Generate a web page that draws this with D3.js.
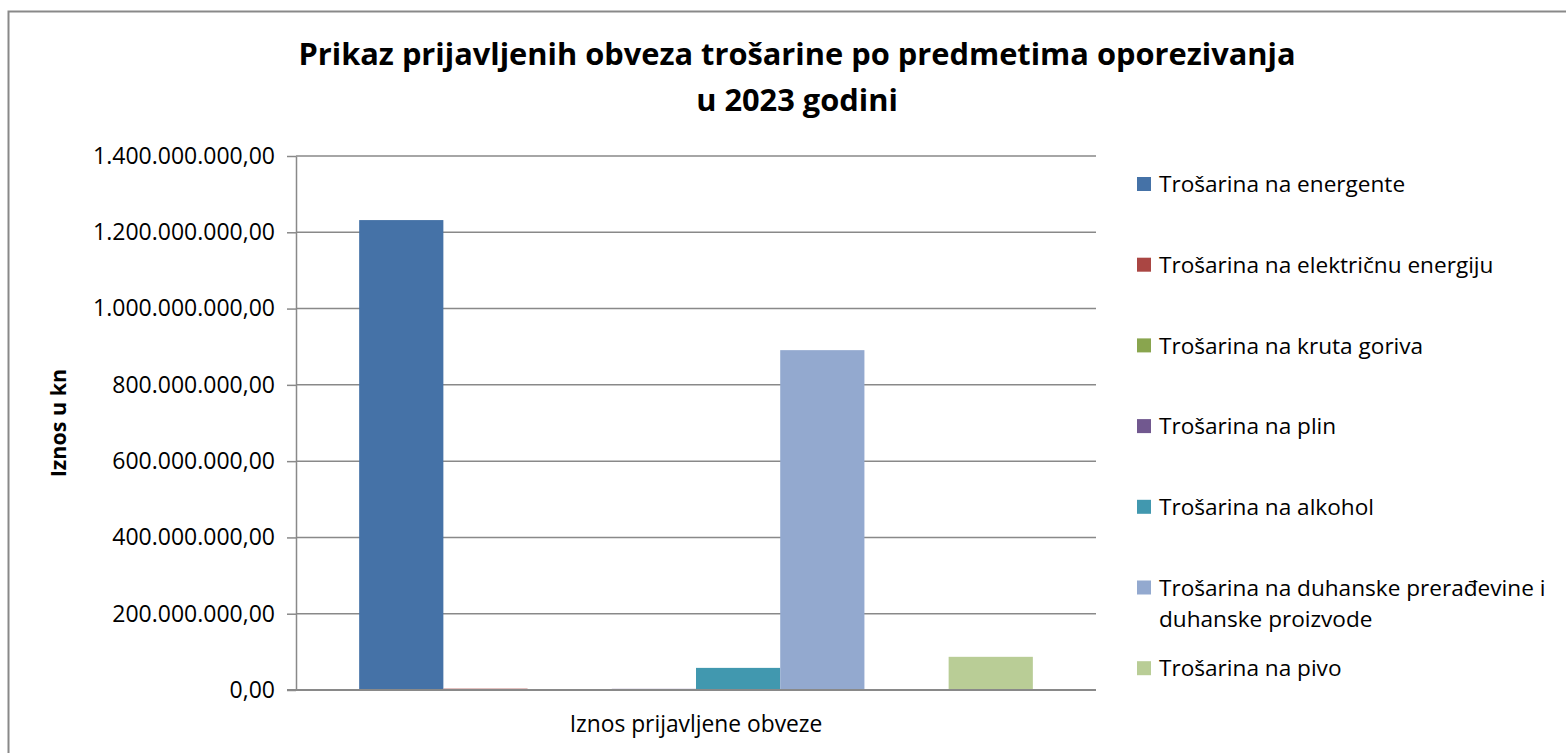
<!DOCTYPE html>
<html>
<head>
<meta charset="utf-8">
<script src="https://cdnjs.cloudflare.com/ajax/libs/d3/7.8.5/d3.min.js"></script>
<style>
    body { margin: 0; background: #fff; }
    text { font-family: "Open Sans", sans-serif; fill: #000; }
</style>
</head>
<body>
<svg id="svg" width="1566" height="753"></svg>
<script>
    // podaci
    var titleLines = ["Prikaz prijavljenih obveza trošarine po predmetima oporezivanja", "u 2023 godini"];
    var category = ["Iznos prijavljene obveze"];
    var yTitle = "Iznos u kn";
    var seriesNames = [
        "Trošarina na energente",
        "Trošarina na električnu energiju",
        "Trošarina na kruta goriva",
        "Trošarina na plin",
        "Trošarina na alkohol",
        "Trošarina na duhanske prerađevine i duhanske proizvode",
        "",
        "Trošarina na pivo"
    ];
    var seriesValues = [1232000000, 3500000, 0, 3000000, 58000000, 891000000, 0, 87000000];
    var seriesColors = ["#4572A7", "#AA4643", "#89A54E", "#71588F", "#4198AF", "#93A9CF", "#D19392", "#B9CD96"];
    var yTicks = [0, 200000000, 400000000, 600000000, 800000000, 1000000000, 1200000000, 1400000000];

    !function() {
        var svg = d3.select("#svg"),
            left = 296, right = 1096, top = 156, bottom = 690,
            gray = "#898989";

        var fmt = d3.formatLocale({decimal: ",", thousands: ".", grouping: [3], currency: ["", ""]}).format(",.2f");

        // okvir
        svg.append("rect").attr("x", 8.5).attr("y", 11.5).attr("width", 1700).attr("height", 900)
            .attr("fill", "none").attr("stroke", gray).attr("stroke-width", 2);

        // naslov
        svg.append("g").selectAll("text").data(titleLines).enter().append("text")
            .attr("x", 797).attr("y", function(d, i) { return 65 + i * 46; })
            .attr("text-anchor", "middle").attr("font-size", 30.8).attr("font-weight", "bold")
            .text(function(d) { return d; });

        var y = d3.scaleLinear().domain([0, 1400000000]).range([bottom, top]);
        var x0 = d3.scaleBand().domain(category).range([left, right]);
        var x1 = d3.scaleBand().domain(d3.range(seriesNames.length)).range([0, x0.bandwidth()])
            .paddingInner(0).paddingOuter(0.75);

        // mreža
        svg.append("g").selectAll("line").data(yTicks.slice(1)).enter().append("line")
            .attr("x1", left).attr("x2", right)
            .attr("y1", function(d) { return y(d); }).attr("y2", function(d) { return y(d); })
            .attr("stroke", gray).attr("stroke-width", 1.5);

        // stupci
        svg.append("g").selectAll("rect").data(seriesValues).enter().append("rect")
            .attr("x", function(d, i) { return x0(category[0]) + x1(i); })
            .attr("width", x1.bandwidth())
            .attr("y", function(d) { return y(d); })
            .attr("height", function(d) { return bottom - y(d); })
            .attr("fill", function(d, i) { return seriesColors[i]; });

        // os y
        var ya = svg.append("g").attr("transform", "translate(" + left + ",0)")
            .call(d3.axisLeft(y).tickValues(yTicks).tickFormat(fmt).tickSize(9).tickSizeOuter(0).tickPadding(12));
        ya.selectAll("line, path").attr("stroke", gray).attr("stroke-width", 1.5);
        ya.selectAll("text").attr("font-size", 23).attr("font-family", "Open Sans").attr("fill", "#000");

        // os x
        svg.append("line").attr("x1", left - 9).attr("x2", right).attr("y1", bottom).attr("y2", bottom)
            .attr("stroke", gray).attr("stroke-width", 2);
        svg.append("text").attr("x", x0(category[0]) + x0.bandwidth() / 2).attr("y", 732)
            .attr("text-anchor", "middle").attr("font-size", 22.8).text(category[0]);

        svg.append("text").attr("transform", "translate(66," + (top + bottom) / 2 + ") rotate(-90)")
            .attr("text-anchor", "middle").attr("font-size", 21.5).attr("font-weight", "bold").text(yTitle);

        // legenda
        var items = seriesNames.map(function(n, i) { return {name: n, color: seriesColors[i]}; })
            .filter(function(d) { return d.name; });
        var lg = svg.append("g").selectAll("g").data(items).enter().append("g")
            .attr("transform", function(d, i) { return "translate(1137," + (177 + i * 80.7) + ")"; });
        lg.append("rect").attr("width", 14).attr("height", 14).attr("fill", function(d) { return d.color; });
        lg.append("text").attr("x", 22).attr("y", 7).attr("dy", "0.36em").attr("font-size", 22.6)
            .each(function(d) {
                var t = d3.select(this), words = d.name.split(" "), line = [],
                    ts = t.append("tspan").attr("x", 22);
                words.forEach(function(w) {
                    line.push(w);
                    ts.text(line.join(" "));
                    if (ts.node().getComputedTextLength() > 405 && line.length > 1) {
                        line.pop();
                        ts.text(line.join(" "));
                        line = [w];
                        ts = t.append("tspan").attr("x", 22).attr("dy", 31).text(w);
                    }
                });
            });
    }();
</script>
</body>
</html>
